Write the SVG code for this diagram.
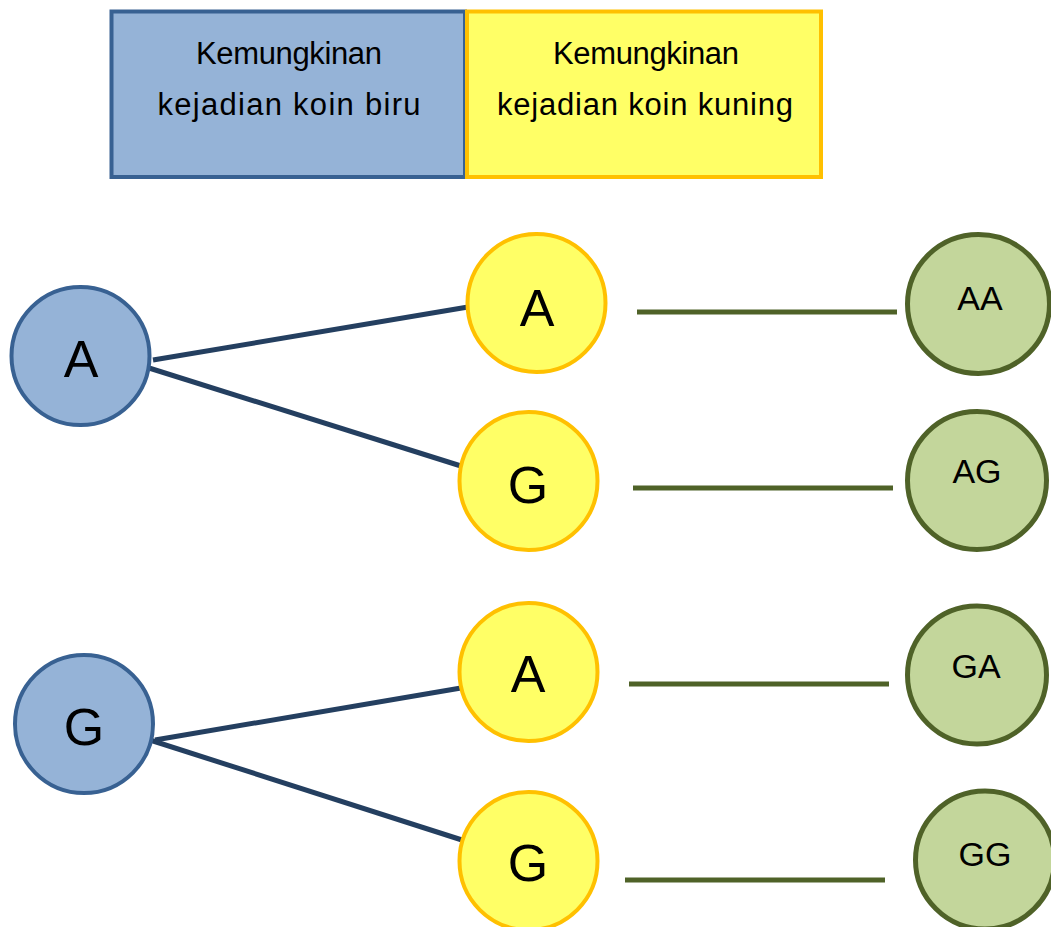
<svg xmlns="http://www.w3.org/2000/svg" width="1051" height="927" viewBox="0 0 1051 927">
<style>
.hdr{font-family:"Liberation Sans",Arial,sans-serif;font-size:31px;fill:#000;text-anchor:middle}
.big{font-family:"Liberation Sans",Arial,sans-serif;font-size:52px;fill:#000;text-anchor:middle}
.small{font-family:"Liberation Sans",Arial,sans-serif;font-size:34px;fill:#000;text-anchor:middle}
.blue{fill:#95b3d7;stroke:#386192;stroke-width:4}
.yellow{fill:#ffff66;stroke:#ffc000;stroke-width:4}
.green{fill:#c3d69b;stroke:#4f6228;stroke-width:5}
.c1{stroke:#243f60;stroke-width:5;fill:none}
.c2{stroke:#4f6228;stroke-width:5;fill:none}
</style>
<rect width="1051" height="927" fill="#fff"/>
<g id="header-blue">
<rect class="blue" x="111.5" y="11.5" width="353.5" height="165.5"/>
<text class="hdr" x="289" y="64" textLength="186" lengthAdjust="spacing">Kemungkinan</text>
<text class="hdr" x="289" y="115" textLength="263" lengthAdjust="spacing">kejadian koin biru</text>
</g>
<g id="header-yellow">
<rect class="yellow" x="467" y="11.5" width="354" height="165.5"/>
<text class="hdr" x="646" y="64" textLength="186" lengthAdjust="spacing">Kemungkinan</text>
<text class="hdr" x="645" y="115" textLength="296" lengthAdjust="spacing">kejadian koin kuning</text>
</g>
<g id="connectors">
<line class="c1" x1="153" y1="360" x2="468" y2="307"/>
<line class="c1" x1="149" y1="368" x2="461" y2="466"/>
<line class="c1" x1="155" y1="740" x2="461" y2="688"/>
<line class="c1" x1="150" y1="740" x2="462" y2="840"/>
<line class="c2" x1="637" y1="312" x2="897" y2="312"/>
<line class="c2" x1="633" y1="488" x2="893" y2="488"/>
<line class="c2" x1="629" y1="684" x2="889" y2="684"/>
<line class="c2" x1="625" y1="880" x2="885" y2="880"/>
</g>
<g id="blue-A">
<ellipse class="blue" cx="80.5" cy="356" rx="69" ry="69"/>
<text class="big" x="81" y="377">A</text>
</g>
<g id="blue-G">
<ellipse class="blue" cx="84" cy="724" rx="69" ry="69"/>
<text class="big" x="84" y="745">G</text>
</g>
<g id="yellow-A1">
<ellipse class="yellow" cx="536.5" cy="303" rx="69" ry="69"/>
<text class="big" x="537" y="326">A</text>
</g>
<g id="yellow-G1">
<ellipse class="yellow" cx="528.5" cy="481" rx="69" ry="69"/>
<text class="big" x="528" y="503">G</text>
</g>
<g id="yellow-A2">
<ellipse class="yellow" cx="528.5" cy="672" rx="69" ry="69"/>
<text class="big" x="528" y="692">A</text>
</g>
<g id="yellow-G2">
<ellipse class="yellow" cx="528.5" cy="861" rx="69" ry="69"/>
<text class="big" x="528" y="881">G</text>
</g>
<g id="green-AA">
<ellipse class="green" cx="978.5" cy="304" rx="71" ry="69.5"/>
<text class="small" x="980" y="310">AA</text>
</g>
<g id="green-AG">
<ellipse class="green" cx="977" cy="480.5" rx="69.5" ry="69"/>
<text class="small" x="977" y="483">AG</text>
</g>
<g id="green-GA">
<ellipse class="green" cx="977" cy="675" rx="69.5" ry="69"/>
<text class="small" x="976" y="678">GA</text>
</g>
<g id="green-GG">
<ellipse class="green" cx="985" cy="860" rx="69.5" ry="69"/>
<text class="small" x="985" y="866">GG</text>
</g>
</svg>
